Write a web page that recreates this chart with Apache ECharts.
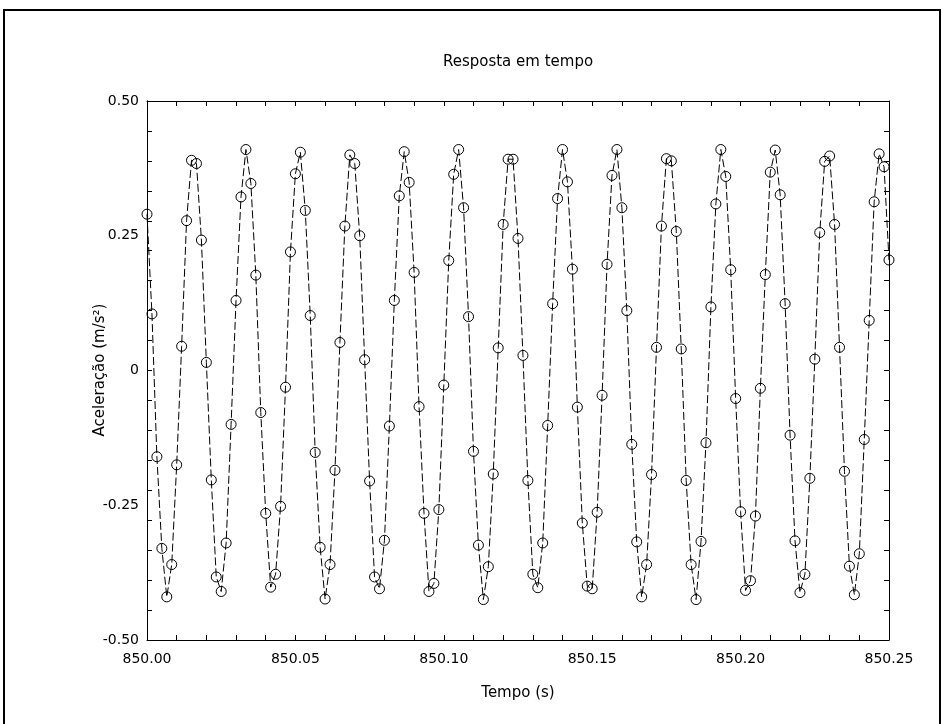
<!DOCTYPE html>
<html>
<head>
<meta charset="utf-8">
<script src="https://cdn.jsdelivr.net/npm/echarts@6/dist/echarts.min.js"></script>
<style>
  html, body { margin: 0; padding: 0; background: #fff; }
  #chart { width: 942px; height: 724px; }
</style>
</head>
<body>
<div id="chart"></div>
<script>
// Texts
const chartTitle = 'Resposta em tempo';
const xAxisTitle = 'Tempo (s)';
const yAxisTitle = 'Aceleração (m/s²)';

// Sampling of the record
const startTime = 850.0;   // s
const sampleRate = 600;    // Hz

// Measured acceleration (m/s²), one value per sample
const accel = [
   0.290,  0.105, -0.160, -0.330, -0.420, -0.360, -0.175,  0.045,  0.278,  0.390,
   0.384,  0.242,  0.015, -0.203, -0.383, -0.410, -0.320, -0.100,  0.130,  0.322,
   0.410,  0.347,  0.177, -0.078, -0.265, -0.402, -0.378, -0.252, -0.031,  0.220,
   0.365,  0.405,  0.297,  0.102, -0.152, -0.328, -0.424, -0.360, -0.185,  0.052,
   0.268,  0.400,  0.384,  0.250,  0.020, -0.205, -0.383, -0.405, -0.315, -0.103,
   0.130,  0.324,  0.406,  0.349,  0.182, -0.067, -0.265, -0.410, -0.395, -0.258,
  -0.027,  0.204,  0.364,  0.410,  0.302,  0.100, -0.150, -0.324, -0.425, -0.364,
  -0.192,  0.042,  0.271,  0.392,  0.392,  0.245,  0.028, -0.204, -0.378, -0.403,
  -0.320, -0.102,  0.124,  0.319,  0.410,  0.350,  0.188, -0.068, -0.283, -0.400,
  -0.405, -0.263, -0.046,  0.197,  0.362,  0.410,  0.302,  0.111, -0.137, -0.318,
  -0.420, -0.360, -0.193,  0.043,  0.268,  0.393,  0.389,  0.258,  0.040, -0.204,
  -0.360, -0.425, -0.317, -0.134,  0.118,  0.309,  0.410,  0.360,  0.187, -0.052,
  -0.262, -0.408, -0.390, -0.270, -0.033,  0.178,  0.368,  0.409,  0.326,  0.124,
  -0.120, -0.316, -0.412, -0.378, -0.200,  0.021,  0.256,  0.388,  0.398,  0.271,
   0.043, -0.187, -0.363, -0.416, -0.340, -0.128,  0.093,  0.313,  0.402,  0.378,
   0.205
];

// Axis ranges, tick spacing and tick labels
const xMin = 850.00, xMax = 850.25, xStep = 0.05, xMinorSplits = 5;
const yMin = -0.50, yMax = 0.50, yStep = 0.25, yTickStep = 1 / 18;
const xTickLabels = ['850.00', '850.05', '850.10', '850.15', '850.20', '850.25'];
const yTickLabels = ['-0.50', '-0.25', '0', '0.25', '0.50'];

const points = accel.map((a, i) => [startTime + i / sampleRate, a]);

const font = '"DejaVu Sans", "Liberation Sans", Arial, sans-serif';
const ink = '#000';
const labelSize = 14;
const titleSize = 15;

function xLabel(v) {
  const k = Math.round((v - xMin) / xStep);
  return xTickLabels[k] !== undefined ? xTickLabels[k] : '';
}
function yLabel(v) {
  const k = Math.round((v - yMin) / yStep);
  return yTickLabels[k] !== undefined ? yTickLabels[k] : '';
}

const frameLine = { show: true, onZero: false, lineStyle: { color: ink, width: 1 } };
const innerTick = { show: true, inside: true, length: 5, lineStyle: { color: ink, width: 1 } };

// Horizontal axes: labelled bottom axis and a mirrored top axis, ticks every 0.01 s
function timeAxis(position, withLabels) {
  return {
    type: 'value', position: position, min: xMin, max: xMax, interval: xStep,
    axisLine: frameLine,
    axisTick: innerTick,
    minorTick: { show: true, splitNumber: xMinorSplits, length: 5, lineStyle: { color: ink, width: 1 } },
    splitLine: { show: false },
    minorSplitLine: { show: false },
    axisLabel: withLabels
      ? { show: true, color: ink, fontSize: labelSize, fontFamily: font, margin: 12, formatter: xLabel }
      : { show: false }
  };
}

// Vertical axes: one carries the labels, the other two draw the fine ticks on both sides
const yLabelAxis = {
  type: 'value', position: 'left', min: yMin, max: yMax, interval: yStep,
  axisLine: frameLine,
  axisTick: { show: false },
  splitLine: { show: false },
  axisLabel: { show: true, color: ink, fontSize: labelSize, fontFamily: font, margin: 8, formatter: yLabel }
};
function yTickAxis(position) {
  return {
    type: 'value', position: position, min: yMin, max: yMax, interval: yTickStep,
    axisLine: frameLine,
    axisTick: innerTick,
    splitLine: { show: false },
    axisLabel: { show: false }
  };
}

const chart = echarts.init(document.getElementById('chart'), null, { renderer: 'canvas' });
chart.setOption({
  animation: false,
  backgroundColor: '#fff',
  textStyle: { fontFamily: font },
  grid: { left: 147, right: 53, top: 101, bottom: 84, containLabel: false },
  graphic: [
    {
      type: 'rect', silent: true, z: -1,
      shape: { x: 4, y: 10, width: 936, height: 760 },
      style: { fill: 'none', stroke: ink, lineWidth: 2 }
    },
    {
      type: 'text', silent: true, x: 518, y: 62,
      style: { text: chartTitle, fill: ink, font: titleSize + 'px ' + font, textAlign: 'center', textVerticalAlign: 'middle' }
    },
    {
      type: 'text', silent: true, x: 518, y: 693,
      style: { text: xAxisTitle, fill: ink, font: titleSize + 'px ' + font, textAlign: 'center', textVerticalAlign: 'middle' }
    },
    {
      type: 'text', silent: true, x: 100, y: 370, rotation: Math.PI / 2,
      style: { text: yAxisTitle, fill: ink, font: titleSize + 'px ' + font, textAlign: 'center', textVerticalAlign: 'middle' }
    }
  ],
  xAxis: [timeAxis('bottom', true), timeAxis('top', false)],
  yAxis: [yLabelAxis, yTickAxis('left'), yTickAxis('right')],
  series: [{
    type: 'line',
    xAxisIndex: 0,
    yAxisIndex: 0,
    data: points,
    symbol: 'circle',
    symbolSize: 10,
    showSymbol: true,
    showAllSymbol: true,
    clip: true,
    itemStyle: { color: 'rgba(0,0,0,0)', borderColor: ink, borderWidth: 1 },
    lineStyle: { color: ink, width: 1, type: [8, 3] },
    emphasis: { disabled: true }
  }]
});
</script>
</body>
</html>
